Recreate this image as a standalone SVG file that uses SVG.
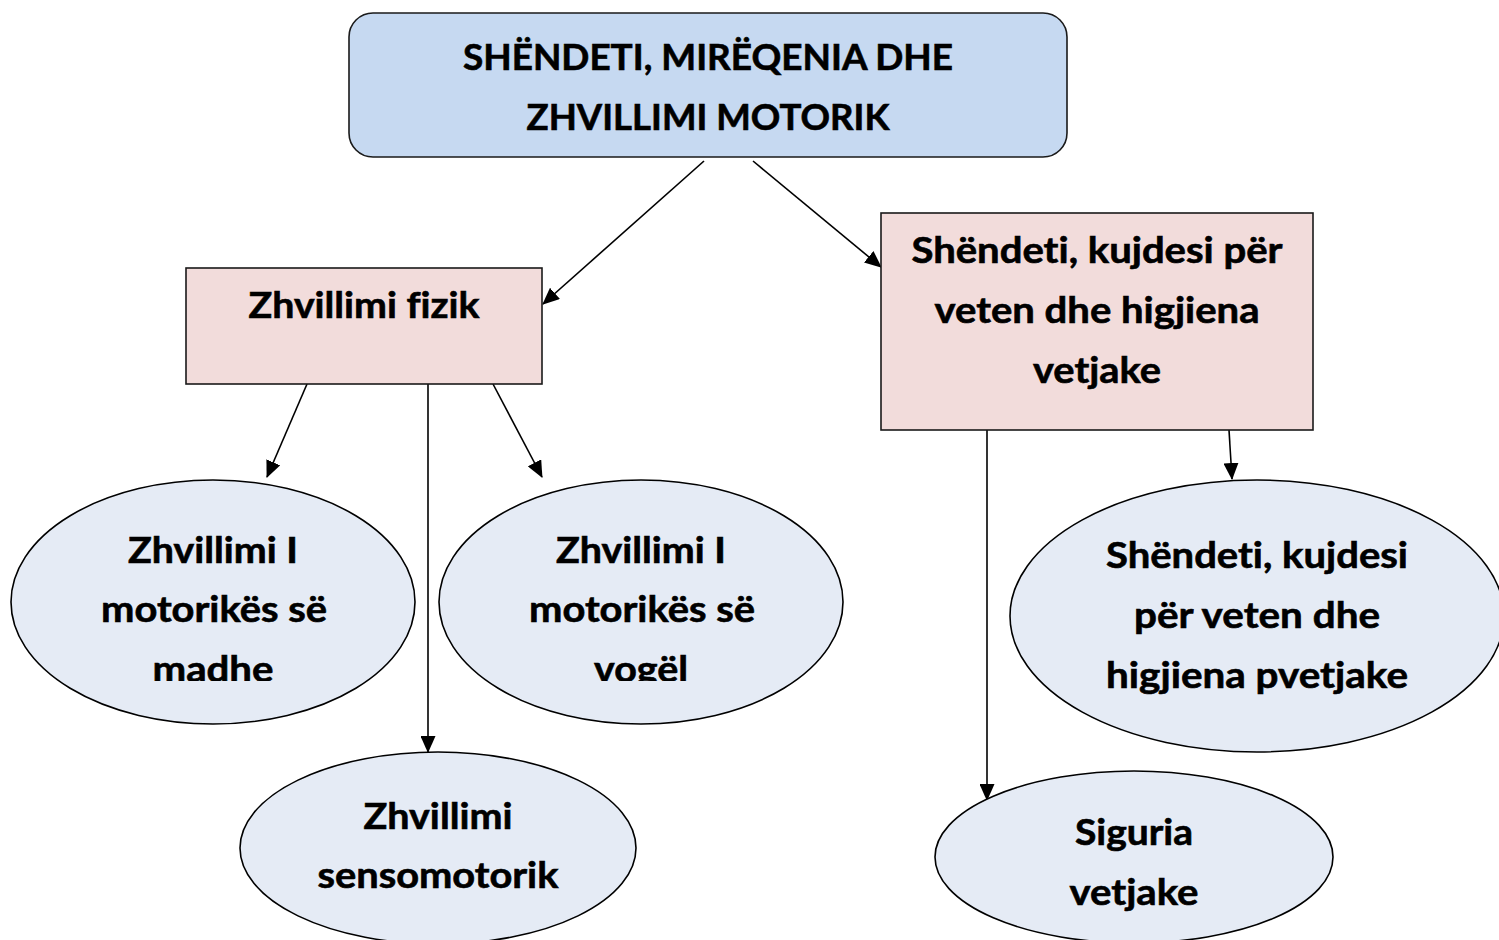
<svg xmlns="http://www.w3.org/2000/svg" width="1499" height="940" viewBox="0 0 1499 940">
<style>
.t{font-family:Lato,"Open Sans","Liberation Sans",sans-serif;font-weight:bold;font-size:36px;fill:#000;stroke:#000;stroke-width:0.6;text-anchor:middle;font-variant-ligatures:none;font-feature-settings:"liga" 0}
.box{stroke:#1a1a1a;stroke-width:1.6}
.ell{fill:#e5ebf5;stroke:#000;stroke-width:1.6}
.c{stroke:#000;stroke-width:1.6;fill:none;marker-end:url(#ah)}
</style>
<defs>
<marker id="ah" markerUnits="userSpaceOnUse" markerWidth="17" markerHeight="15" refX="16" refY="7.5" orient="auto" viewBox="0 0 17 15">
<path d="M0,0 L17,7.5 L0,15 Z" fill="#000"/>
</marker>
<clipPath id="clipA"><rect x="0" y="470" width="860" height="211"/></clipPath>
</defs>
<rect width="1499" height="940" fill="#fff"/>
<g id="connectors">
<line class="c" x1="704" y1="161" x2="543" y2="304"/>
<line class="c" x1="753" y1="161" x2="881" y2="267"/>
<line class="c" x1="307" y1="384" x2="267" y2="477"/>
<line class="c" x1="493" y1="384" x2="542" y2="477"/>
<line class="c" x1="428" y1="384" x2="428" y2="752"/>
<line class="c" x1="987" y1="430" x2="987" y2="800"/>
<line class="c" x1="1229" y1="430" x2="1232" y2="479"/>
</g>
<g id="top">
<rect class="box" x="349" y="13" width="718" height="144" rx="24" fill="#c6d9f1"/>
<text class="t" x="708" y="70" textLength="490" lengthAdjust="spacingAndGlyphs">SHËNDETI, MIRËQENIA DHE</text>
<text class="t" x="708" y="130" textLength="363" lengthAdjust="spacingAndGlyphs">ZHVILLIMI MOTORIK</text>
</g>
<g id="fizik">
<rect class="box" x="186" y="268" width="356" height="116" fill="#f2dcdb"/>
<text class="t" x="364" y="318" textLength="231" lengthAdjust="spacingAndGlyphs">Zhvillimi fizik</text>
</g>
<g id="shendeti">
<rect class="box" x="881" y="213" width="432" height="217" fill="#f2dcdb"/>
<text class="t" x="1097" y="263" textLength="371" lengthAdjust="spacingAndGlyphs">Shëndeti, kujdesi për</text>
<text class="t" x="1097" y="323" textLength="325" lengthAdjust="spacingAndGlyphs">veten dhe higjiena</text>
<text class="t" x="1097" y="383" textLength="128" lengthAdjust="spacingAndGlyphs">vetjake</text>
</g>
<g id="madhe">
<ellipse class="ell" cx="213" cy="602" rx="202" ry="122"/>
<g clip-path="url(#clipA)">
<text class="t" x="213" y="563" textLength="170" lengthAdjust="spacingAndGlyphs">Zhvillimi I</text>
<text class="t" x="214" y="622" textLength="226" lengthAdjust="spacingAndGlyphs">motorikës së</text>
<text class="t" x="213" y="682" textLength="121" lengthAdjust="spacingAndGlyphs">madhe</text>
</g>
</g>
<g id="vogel">
<ellipse class="ell" cx="641" cy="602" rx="202" ry="122"/>
<g clip-path="url(#clipA)">
<text class="t" x="641" y="563" textLength="170" lengthAdjust="spacingAndGlyphs">Zhvillimi I</text>
<text class="t" x="642" y="622" textLength="226" lengthAdjust="spacingAndGlyphs">motorikës së</text>
<text class="t" x="641" y="682" textLength="94" lengthAdjust="spacingAndGlyphs">vogël</text>
</g>
</g>
<g id="sensomotorik">
<ellipse class="ell" cx="438" cy="848" rx="198" ry="96"/>
<text class="t" x="438" y="829" textLength="149" lengthAdjust="spacingAndGlyphs">Zhvillimi</text>
<text class="t" x="438" y="888" textLength="241" lengthAdjust="spacingAndGlyphs">sensomotorik</text>
</g>
<g id="higjiena">
<ellipse class="ell" cx="1257" cy="616" rx="247" ry="136"/>
<text class="t" x="1257" y="568" textLength="302" lengthAdjust="spacingAndGlyphs">Shëndeti, kujdesi</text>
<text class="t" x="1257" y="628" textLength="246" lengthAdjust="spacingAndGlyphs">për veten dhe</text>
<text class="t" x="1257" y="688" textLength="302" lengthAdjust="spacingAndGlyphs">higjiena pvetjake</text>
</g>
<g id="siguria">
<ellipse class="ell" cx="1134" cy="857" rx="199" ry="86"/>
<text class="t" x="1134" y="845" textLength="118" lengthAdjust="spacingAndGlyphs">Siguria</text>
<text class="t" x="1134" y="905" textLength="129" lengthAdjust="spacingAndGlyphs">vetjake</text>
</g>
</svg>
